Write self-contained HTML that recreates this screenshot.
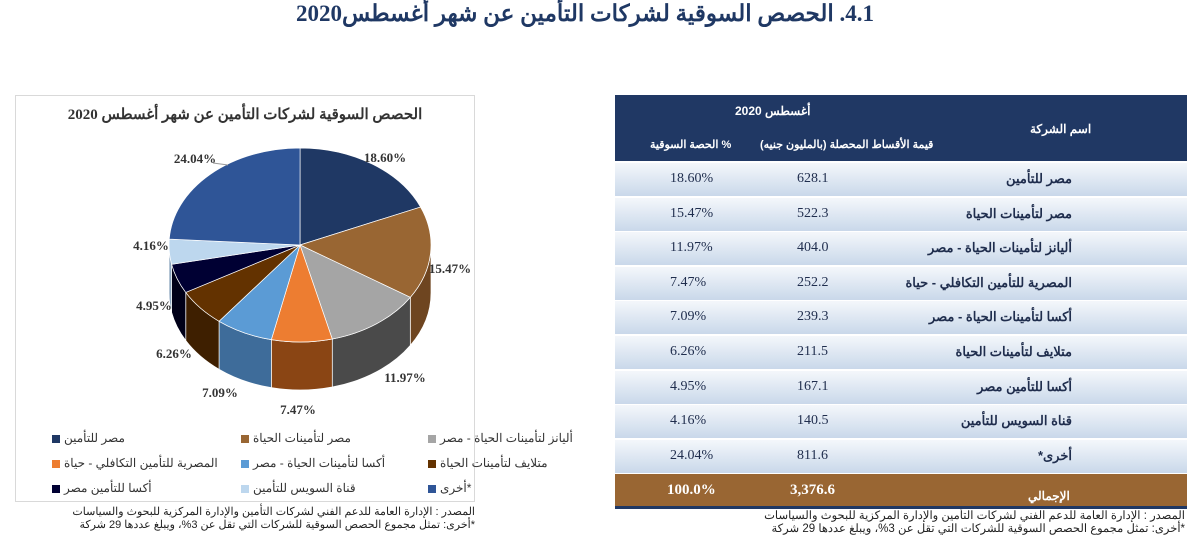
<!DOCTYPE html><html><head><meta charset="utf-8"><style>
body{margin:0;width:1191px;height:548px;background:#fff;position:relative;overflow:hidden;font-family:"Liberation Serif","Noto Serif CJK SC",serif}
.a{position:absolute;white-space:nowrap}
.ar{font-family:"Liberation Sans","Noto Sans CJK SC",sans-serif}
.row{position:absolute;left:615px;width:572px;height:33px;background:linear-gradient(#f4f7fb,#c9d8ea);border-bottom:2px solid #fff}
.row span{position:absolute;top:8px;font-size:14px;color:#1f2d4d}
.lg{position:absolute;font-size:12px;color:#333;font-family:"Liberation Sans","Noto Sans CJK SC",sans-serif;white-space:nowrap}
.lg i{display:inline-block;width:8px;height:8px;margin-right:4px;vertical-align:middle}
</style></head><body>
<div class="a" style="left:0;width:1170px;text-align:center;top:1px;font-size:23px;font-weight:bold;color:#1f3864" dir="rtl">4.1. الحصص السوقية لشركات التأمين عن شهر أغسطس2020</div>
<div class="a" style="left:15px;top:95px;width:460px;height:407px;border:1px solid #d9d9d9;box-sizing:border-box"></div>
<div class="a" style="left:15px;width:460px;text-align:center;top:105px;font-size:15px;font-weight:bold;color:#333" dir="rtl">الحصص السوقية لشركات التأمين عن شهر أغسطس 2020</div>
<svg class="a" style="left:0;top:0" width="480" height="420" id="pie"></svg>
<div class="lg" style="left:52px;top:431px"><i style="background:#1f3864"></i>مصر للتأمين</div>
<div class="lg" style="left:241px;top:431px"><i style="background:#996633"></i>مصر لتأمينات الحياة</div>
<div class="lg" style="left:428px;top:431px"><i style="background:#a5a5a5"></i>أليانز لتأمينات الحياة - مصر</div>
<div class="lg" style="left:52px;top:456px"><i style="background:#ed7d31"></i>المصرية للتأمين التكافلي - حياة</div>
<div class="lg" style="left:241px;top:456px"><i style="background:#5b9bd5"></i>أكسا لتأمينات الحياة - مصر</div>
<div class="lg" style="left:428px;top:456px"><i style="background:#633200"></i>متلايف لتأمينات الحياة</div>
<div class="lg" style="left:52px;top:481px"><i style="background:#000033"></i>أكسا للتأمين مصر</div>
<div class="lg" style="left:241px;top:481px"><i style="background:#bdd7ee"></i>قناة السويس للتأمين</div>
<div class="lg" style="left:428px;top:481px"><i style="background:#2f5597"></i>أخرى*</div>
<div class="a ar" style="right:716px;top:506px;font-size:11px;line-height:13px;text-align:right;color:#222" dir="rtl">المصدر : الإدارة العامة للدعم الفني لشركات التأمين والإدارة المركزية للبحوث والسياسات<br>*أخرى: تمثل مجموع الحصص السوقية للشركات التي تقل عن 3%، ويبلغ عددها 29 شركة</div>
<div class="a ar" style="right:6px;top:510px;font-size:11.5px;line-height:13px;text-align:right;color:#222" dir="rtl">المصدر : الإدارة العامة للدعم الفني لشركات التأمين والإدارة المركزية للبحوث والسياسات<br>*أخرى: تمثل مجموع الحصص السوقية للشركات التي تقل عن 3%، ويبلغ عددها 29 شركة</div>
<div class="a" style="left:615px;top:95px;width:572px;height:66px;background:#203864"></div>
<div class="a ar" style="left:735px;top:104px;font-size:12px;font-weight:bold;color:#fff">أغسطس 2020</div>
<div class="a ar" style="left:650px;top:138px;font-size:11px;font-weight:bold;color:#fff">الحصة السوقية %</div>
<div class="a ar" style="left:760px;top:138px;font-size:11px;font-weight:bold;color:#fff">قيمة الأقساط المحصلة (بالمليون جنيه)</div>
<div class="a ar" style="left:1030px;top:122px;font-size:12px;font-weight:bold;color:#fff">اسم الشركة</div>
<div id="tb"></div>
<div class="a" style="left:615px;top:474px;width:572px;height:32px;background:#996633;border-bottom:3px solid #203864"></div>
<div class="a" style="left:667px;top:482px;font-size:15px;font-weight:bold;color:#fff">100.0%</div>
<div class="a" style="left:790px;top:482px;font-size:15px;font-weight:bold;color:#fff">3,376.6</div>
<div class="a ar" style="left:1028px;top:489px;font-size:12px;font-weight:bold;color:#fff">الإجمالي</div>
<script>
var rows=[["18.60%","628.1","مصر للتأمين"],["15.47%","522.3","مصر لتأمينات الحياة"],["11.97%","404.0","أليانز لتأمينات الحياة - مصر"],["7.47%","252.2","المصرية للتأمين التكافلي - حياة"],["7.09%","239.3","أكسا لتأمينات الحياة - مصر"],["6.26%","211.5","متلايف لتأمينات الحياة"],["4.95%","167.1","أكسا للتأمين مصر"],["4.16%","140.5","قناة السويس للتأمين"],["24.04%","811.6","أخرى*"]];
var h="";rows.forEach(function(r,i){var t=163+i*34.6;h+='<div class="row" style="top:'+t+'px"><span style="left:55px">'+r[0]+'</span><span style="left:182px">'+r[1]+'</span><span class="ar" style="right:115px;font-weight:bold;font-size:13px" dir="rtl">'+r[2]+'</span></div>';});
document.getElementById("tb").innerHTML=h;
var v=[18.6,15.47,11.97,7.47,7.09,6.26,4.95,4.16,24.04],top_=["#1f3864","#996633","#a5a5a5","#ed7d31","#5b9bd5","#633200","#000033","#bdd7ee","#2f5597"],side=["#142648","#6e4520","#4a4a4a","#8a4514","#3e6c9a","#3e1f00","#000018","#8aa3bd","#1e3a6a"];
var cx=300,cy=245,rx=131,ry=97,d=48;
function P(t,dy){return [cx+rx*Math.sin(t),cy-ry*Math.cos(t)+(dy||0)];}
var a=0,sides="",tops="",ang=[];
v.forEach(function(x){var b=a+x/100*2*Math.PI;ang.push([a,b]);a=b;});
ang.forEach(function(g,i){var a0=Math.max(g[0],Math.PI/2),a1=Math.min(g[1],3*Math.PI/2);
 if(a1>a0){var p0=P(a0),p1=P(a1),q1=P(a1,d),q0=P(a0,d);
 sides+='<path d="M'+p0+' A'+rx+','+ry+' 0 0 1 '+p1+' L'+q1+' A'+rx+','+ry+' 0 0 0 '+q0+' Z" fill="'+side[i]+'" stroke="#fff" stroke-width="0.7"/>';}
 var p0=P(g[0]),p1=P(g[1]),lg=(g[1]-g[0])>Math.PI?1:0;
 tops+='<path d="M'+cx+','+cy+' L'+p0+' A'+rx+','+ry+' 0 '+lg+' 1 '+p1+' Z" fill="'+top_[i]+'" stroke="#fff" stroke-width="0.7"/>';});
var L=[[385,162,"18.60%"],[450,273,"15.47%"],[405,382,"11.97%"],[298,414,"7.47%"],[220,397,"7.09%"],[174,358,"6.26%"],[154,310,"4.95%"],[151,250,"4.16%"],[195,163,"24.04%"]];
var lt="";L.forEach(function(l){lt+='<text x="'+l[0]+'" y="'+l[1]+'" text-anchor="middle" font-size="13" font-weight="bold" fill="#333" font-family="Liberation Serif">'+l[2]+'</text>';});
document.getElementById("pie").innerHTML=sides+tops+lt+'<line x1="213" y1="163" x2="228" y2="165" stroke="#999"/>';
</script>
</body></html>
